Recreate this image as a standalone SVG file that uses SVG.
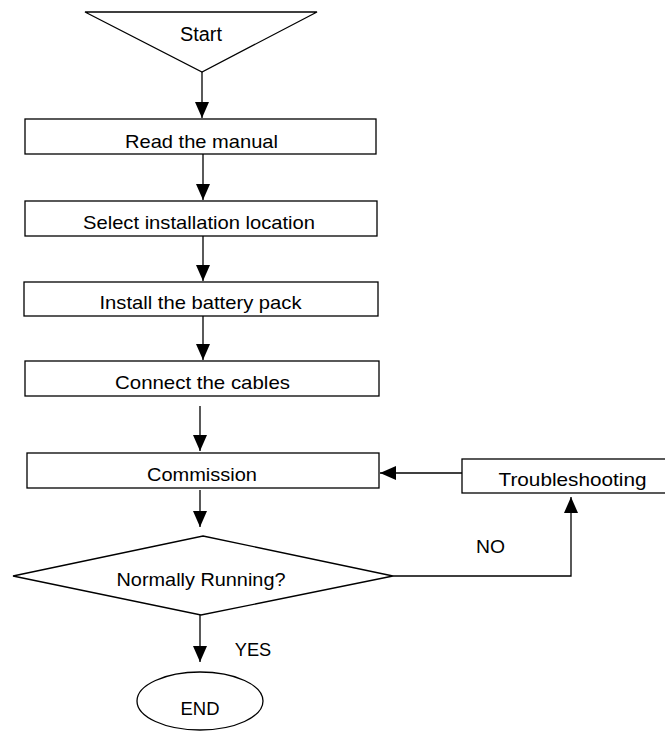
<svg xmlns="http://www.w3.org/2000/svg" width="665" height="733" viewBox="0 0 665 733">
<defs>
<style>
.shape{fill:#fff;stroke:#000;stroke-width:1.3}
.conn{fill:none;stroke:#000;stroke-width:1.3}
text{font-family:"Liberation Sans",Arial,sans-serif;font-size:18.5px;fill:#000;text-anchor:middle}
</style>
<marker id="ah" markerUnits="userSpaceOnUse" markerWidth="16" markerHeight="16" viewBox="0 0 16 14" refX="16" refY="7" orient="auto">
<path d="M0,0 L16,7 L0,14 Z" fill="#000"/>
</marker>
</defs>
<rect width="665" height="733" fill="#fff"/>
<g id="connectors">
<line class="conn" x1="202" y1="72" x2="202" y2="118" marker-end="url(#ah)"/>
<line class="conn" x1="203" y1="154" x2="203" y2="200" marker-end="url(#ah)"/>
<line class="conn" x1="203" y1="236" x2="203" y2="281" marker-end="url(#ah)"/>
<line class="conn" x1="203" y1="316" x2="203" y2="360" marker-end="url(#ah)"/>
<line class="conn" x1="200" y1="406" x2="200" y2="451" marker-end="url(#ah)"/>
<line class="conn" x1="200" y1="490" x2="200" y2="527" marker-end="url(#ah)"/>
<line class="conn" x1="200" y1="615" x2="200" y2="662" marker-end="url(#ah)"/>
<polyline class="conn" points="393,576 571,576 571,497" marker-end="url(#ah)"/>
<line class="conn" x1="462" y1="473" x2="380" y2="473" marker-end="url(#ah)"/>
<text x="490.5" y="553" textLength="29" lengthAdjust="spacingAndGlyphs">NO</text>
<text x="253" y="656" textLength="36.5" lengthAdjust="spacingAndGlyphs">YES</text>
</g>
<g id="start">
<polygon class="shape" points="85,12 317,12 202,72"/>
<text x="201" y="41" style="font-size:20px" textLength="42" lengthAdjust="spacingAndGlyphs">Start</text>
</g>
<g id="read">
<rect class="shape" x="25" y="119" width="351" height="35"/>
<text x="201.5" y="148" textLength="153" lengthAdjust="spacingAndGlyphs">Read the manual</text>
</g>
<g id="select">
<rect class="shape" x="25" y="201" width="352" height="35"/>
<text x="199" y="229" textLength="232" lengthAdjust="spacingAndGlyphs">Select installation location</text>
</g>
<g id="install">
<rect class="shape" x="24" y="282" width="354" height="34"/>
<text x="200.5" y="309" textLength="202" lengthAdjust="spacingAndGlyphs">Install the battery pack</text>
</g>
<g id="connect">
<rect class="shape" x="25" y="361" width="354" height="35"/>
<text x="202.5" y="389" textLength="175" lengthAdjust="spacingAndGlyphs">Connect the cables</text>
</g>
<g id="commission">
<rect class="shape" x="27" y="453" width="352" height="35"/>
<text x="202" y="481" textLength="110" lengthAdjust="spacingAndGlyphs">Commission</text>
</g>
<g id="troubleshooting">
<rect class="shape" x="462" y="459" width="210" height="34"/>
<text x="572.5" y="486" textLength="148" lengthAdjust="spacingAndGlyphs">Troubleshooting</text>
</g>
<g id="decision">
<polygon class="shape" points="203,536 393,576 201,615 13,576"/>
<text x="201" y="586" textLength="169" lengthAdjust="spacingAndGlyphs">Normally Running?</text>
</g>
<g id="end">
<ellipse class="shape" cx="200" cy="701" rx="63" ry="29"/>
<text x="200" y="715" textLength="39" lengthAdjust="spacingAndGlyphs">END</text>
</g>
</svg>
